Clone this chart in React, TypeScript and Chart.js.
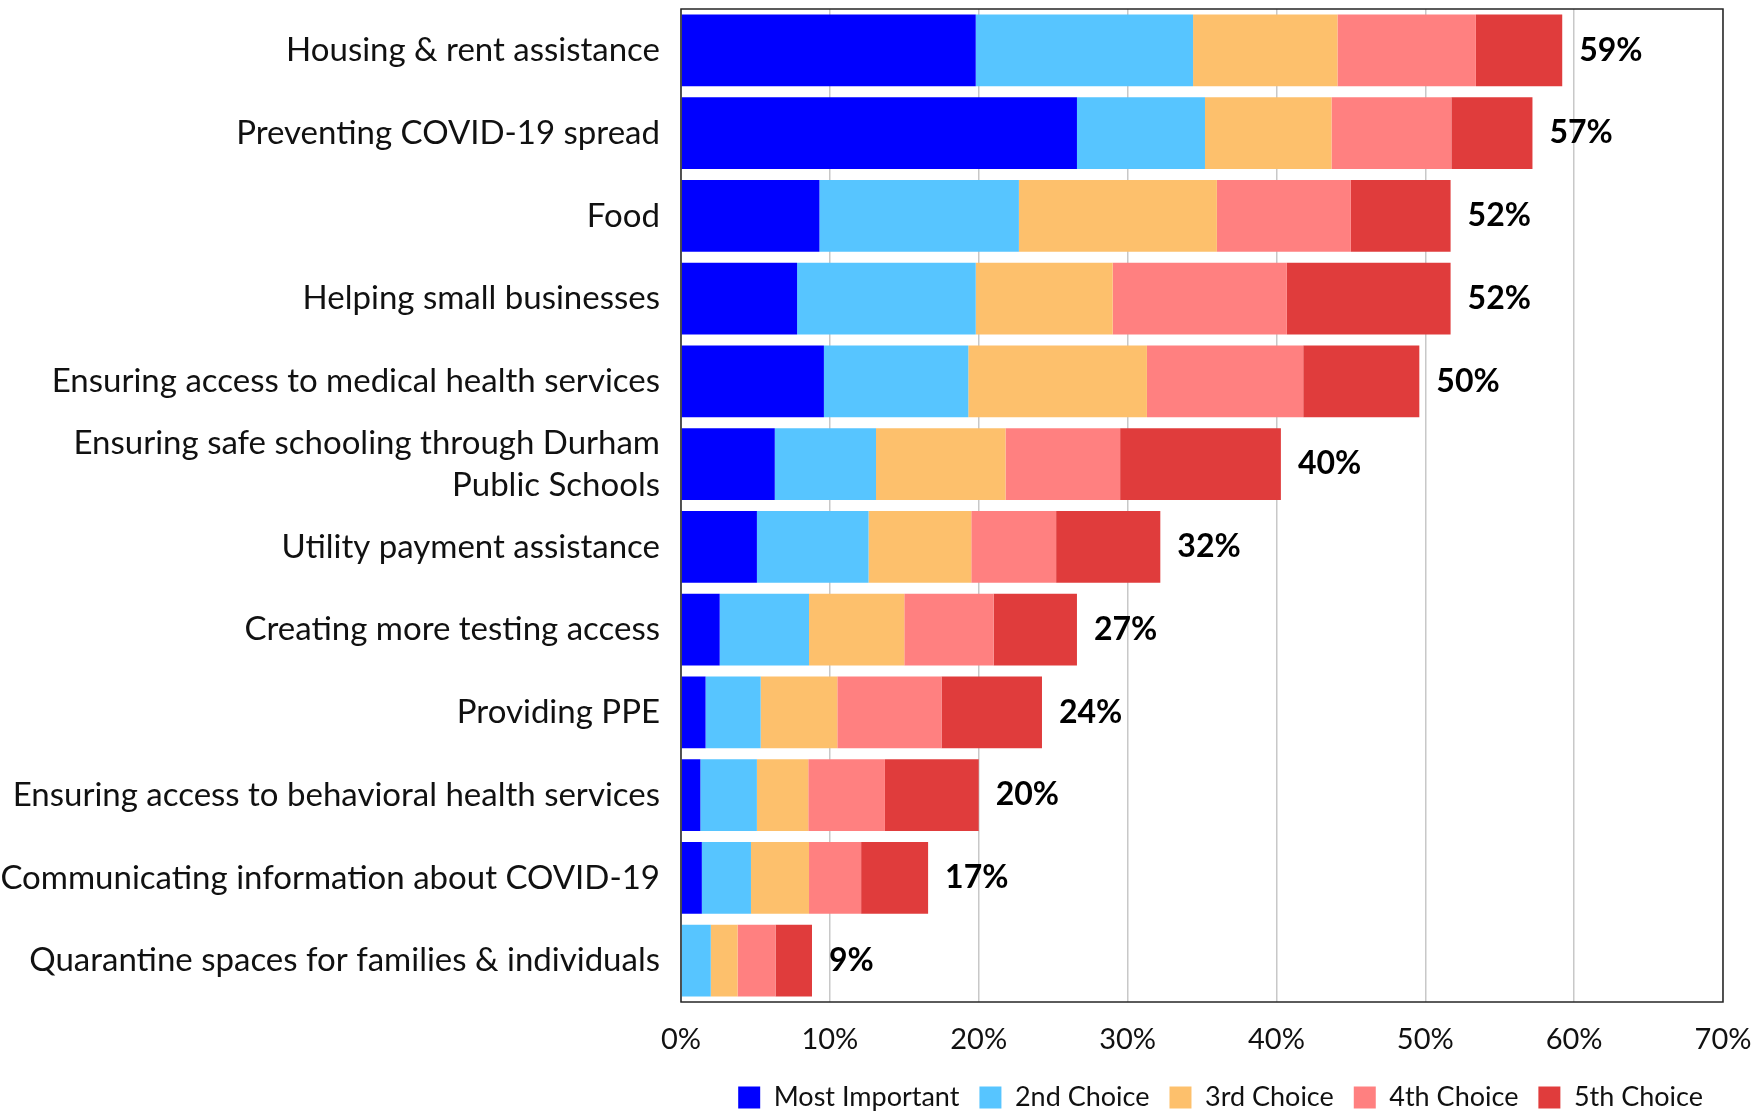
import React, { useEffect, useRef } from "react";
import { Chart, registerables } from "chart.js";

Chart.register(...registerables);

const categories: (string | string[])[] = [
  "Housing & rent assistance",
  "Preventing COVID-19 spread",
  "Food",
  "Helping small businesses",
  "Ensuring access to medical health services",
  ["Ensuring safe schooling through Durham", "Public Schools"],
  "Utility payment assistance",
  "Creating more testing access",
  "Providing PPE",
  "Ensuring access to behavioral health services",
  "Communicating information about COVID-19",
  "Quarantine spaces for families & individuals",
];

const seriesNames = ["Most Important", "2nd Choice", "3rd Choice", "4th Choice", "5th Choice"];

const mostImportant = [19.8, 26.6, 9.3, 7.8, 9.6, 6.3, 5.1, 2.6, 1.65, 1.3, 1.4, 0];
const secondChoice = [14.6, 8.6, 13.4, 12.0, 9.7, 6.8, 7.5, 6.0, 3.7, 3.8, 3.3, 2.0];
const thirdChoice = [9.7, 8.5, 13.3, 9.2, 12.0, 8.7, 6.9, 6.4, 5.15, 3.45, 3.9, 1.8];
const fourthChoice = [9.3, 8.05, 9.0, 11.7, 10.5, 7.7, 5.7, 6.0, 7.0, 5.15, 3.5, 2.55];
const fifthChoice = [5.8, 5.45, 6.7, 11.0, 7.8, 10.8, 7.0, 5.6, 6.75, 6.3, 4.5, 2.45];

const xTicks = [0, 10, 20, 30, 40, 50, 60, 70];

const colors = ["#0000FF", "#57C5FF", "#FDC06C", "#FF8080", "#E03C3C"];

const FONT = "Lato, 'Open Sans', sans-serif";

export default function App() {
  const ref = useRef<HTMLCanvasElement | null>(null);

  useEffect(() => {
    if (!ref.current) return;
    const series = [mostImportant, secondChoice, thirdChoice, fourthChoice, fifthChoice];

    const totalsPlugin = {
      id: "totals",
      afterDatasetsDraw(chart: any) {
        const ctx = chart.ctx;
        const meta = chart.getDatasetMeta(series.length - 1);
        ctx.save();
        ctx.font = `bold 32px ${FONT}`;
        ctx.fillStyle = "#000";
        ctx.textAlign = "left";
        ctx.textBaseline = "middle";
        meta.data.forEach((bar: any, i: number) => {
          const total = series.reduce((s, arr) => s + arr[i], 0);
          ctx.fillText(`${Math.round(total)}%`, bar.x + 17, bar.y);
        });
        ctx.restore();
      },
    };

    const borderPlugin = {
      id: "plotBorder",
      afterDraw(chart: any) {
        const { ctx, chartArea } = chart;
        ctx.save();
        ctx.strokeStyle = "#262626";
        ctx.lineWidth = 1.5;
        ctx.strokeRect(chartArea.left, chartArea.top, chartArea.right - chartArea.left, chartArea.bottom - chartArea.top);
        ctx.restore();
      },
    };

    const chart = new Chart(ref.current, {
      type: "bar",
      data: {
        labels: categories,
        datasets: series.map((d, i) => ({
          label: seriesNames[i],
          data: d,
          backgroundColor: colors[i],
          borderWidth: 0,
          barPercentage: 0.865,
          categoryPercentage: 1,
        })),
      },
      options: {
        indexAxis: "y",
        animation: false,
        responsive: true,
        maintainAspectRatio: false,
        layout: { padding: { left: 0, right: 33, top: 9, bottom: 0 } },
        scales: {
          x: {
            stacked: true,
            min: 0,
            max: 70,
            afterBuildTicks(scale: any) {
              scale.ticks = xTicks.map((v) => ({ value: v }));
            },
            afterFit(scale: any) {
              scale.height = 62;
              scale.paddingLeft = 0;
              scale.paddingRight = 0;
            },
            ticks: {
              callback: (v: any) => `${v}%`,
              font: { family: FONT, size: 29 },
              color: "#111",
              padding: 20,
              maxRotation: 0,
            },
            grid: { color: "#c8c8c8", lineWidth: 1.5, drawTicks: false },
            border: { display: false },
          },
          y: {
            stacked: true,
            afterFit(scale: any) {
              scale.width = 681;
              scale.paddingTop = 0;
              scale.paddingBottom = 0;
            },
            ticks: {
              font: { family: FONT, size: 33, lineHeight: 1.26 },
              color: "#111",
              padding: 21,
              autoSkip: false,
            },
            grid: { display: false, drawTicks: false },
            border: { display: false },
          },
        },
        plugins: {
          legend: {
            position: "bottom",
            fullSize: false,
            align: "end",
            maxHeight: 47,
            labels: {
              font: { family: FONT, size: 27 },
              color: "#111",
              boxWidth: 22,
              boxHeight: 22,
              padding: 20,
            },
          },
          tooltip: { enabled: false },
        },
      },
      plugins: [totalsPlugin, borderPlugin],
    });
    return () => chart.destroy();
  }, []);

  return (
    <div style={{ position: "absolute", left: 0, top: 0, width: 1756, height: 1111, background: "#fff" }}>
      <canvas ref={ref} />
    </div>
  );
}
